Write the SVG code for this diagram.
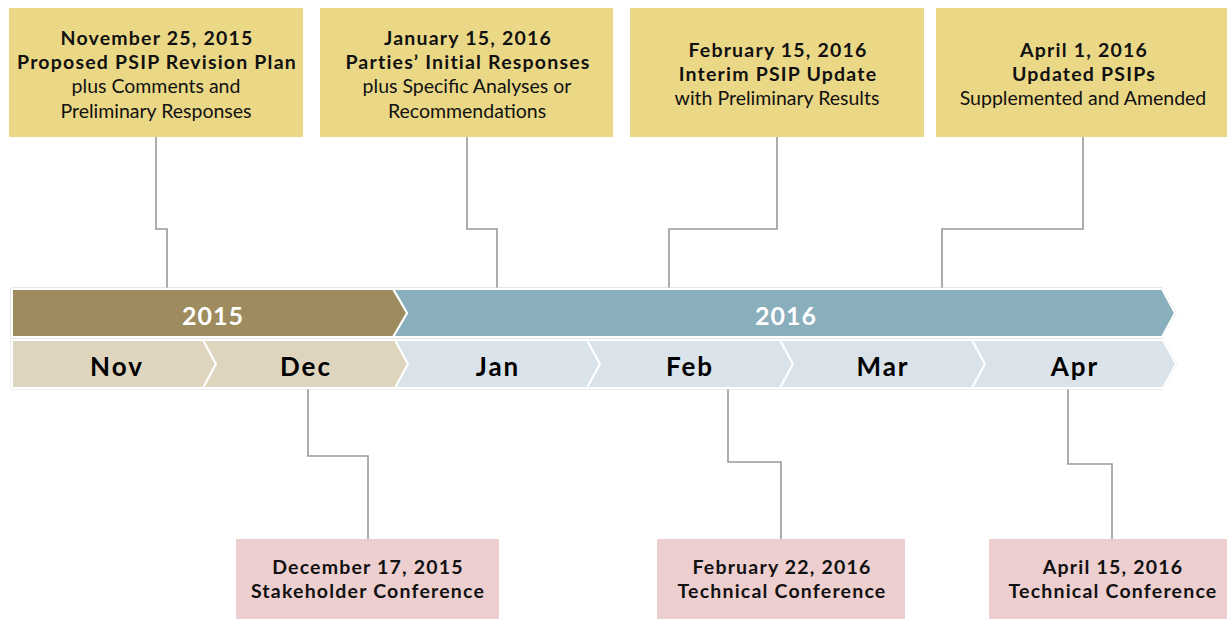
<svg xmlns="http://www.w3.org/2000/svg" width="1227" height="619" viewBox="0 0 1227 619">
<style>
.top{fill:#EBD886}
.bot{fill:#EDCFD0}
.t{font-family:Lato,"Liberation Sans",sans-serif;font-size:19.5px;fill:#111;text-anchor:middle}
.b{font-weight:bold;letter-spacing:1.2px}
.yr{font-family:Lato,"Liberation Sans",sans-serif;font-size:25px;font-weight:bold;fill:#fff;text-anchor:middle;letter-spacing:1px}
.mo{font-family:Lato,"Liberation Sans",sans-serif;font-size:26px;font-weight:bold;fill:#000;text-anchor:middle;letter-spacing:2px}
.m15{fill:#DFD5BE;stroke:#fff;stroke-width:2}
.m16{fill:#DAE2EA;stroke:#fff;stroke-width:2}
.conn{fill:none;stroke:#999;stroke-width:1.6}
</style>
<rect width="1227" height="619" fill="#fff"/>
<g id="connectors">
<polyline class="conn" points="156,137 156,229 167,229 167,288"/>
<polyline class="conn" points="467,137 467,229 497,229 497,288"/>
<polyline class="conn" points="777,137 777,229 669,229 669,288"/>
<polyline class="conn" points="1083,137 1083,229 942,229 942,288"/>
<polyline class="conn" points="308,389 308,456 368,456 368,539"/>
<polyline class="conn" points="728,389 728,462 781,462 781,539"/>
<polyline class="conn" points="1068,389 1068,464 1112,464 1112,539"/>
</g>
<g id="timeline">
<polygon points="11,288 1162,288 1176,313 1162,338 11,338" fill="none" stroke="#cfcfcf" stroke-width="1"/>
<polygon points="11,339 1163,339 1177,364 1163,389 11,389" fill="none" stroke="#dcdcdc" stroke-width="1"/>
<g id="y2016"><polygon points="393,289 1162,289 1175,313 1162,337 393,337 407,313" fill="#89AEBC" stroke="#fff" stroke-width="2"/><text class="yr" x="786" y="325">2016</text></g>
<g id="y2015"><polygon points="12,289 393,289 407,313 393,337 12,337" fill="#9E8B5E" stroke="#fff" stroke-width="2"/><text class="yr" x="213" y="325">2015</text></g>
<g id="nov"><polygon class="m15" points="12,340 203,340 216,364 203,388 12,388"/><text class="mo" x="117" y="376">Nov</text></g>
<g id="dec"><polygon class="m15" points="203,340 395,340 408,364 395,388 203,388 216,364"/><text class="mo" x="306" y="376">Dec</text></g>
<g id="jan"><polygon class="m16" points="395,340 587,340 600,364 587,388 395,388 408,364"/><text class="mo" x="498" y="376">Jan</text></g>
<g id="feb"><polygon class="m16" points="587,340 780,340 793,364 780,388 587,388 600,364"/><text class="mo" x="690" y="376">Feb</text></g>
<g id="mar"><polygon class="m16" points="780,340 972,340 985,364 972,388 780,388 793,364"/><text class="mo" x="883" y="376">Mar</text></g>
<g id="apr"><polygon class="m16" points="972,340 1163,340 1176,364 1163,388 972,388 985,364"/><text class="mo" x="1075" y="376">Apr</text></g>
</g>
<g id="n-nov25">
<rect class="top" x="9" y="8" width="294" height="129"/>
<text class="t b" x="157" y="45">November 25, 2015</text>
<text class="t b" x="157" y="69">Proposed PSIP Revision Plan</text>
<text class="t" x="156" y="93">plus Comments and</text>
<text class="t" x="156" y="118">Preliminary Responses</text>
</g>
<g id="n-jan15">
<rect class="top" x="320" y="8" width="293" height="129"/>
<text class="t b" x="468" y="45">January 15, 2016</text>
<text class="t b" x="468" y="69">Parties’ Initial Responses</text>
<text class="t" x="467" y="93">plus Specific Analyses or</text>
<text class="t" x="467" y="118">Recommendations</text>
</g>
<g id="n-feb15">
<rect class="top" x="630" y="8" width="294" height="129"/>
<text class="t b" x="778" y="57">February 15, 2016</text>
<text class="t b" x="778" y="81">Interim PSIP Update</text>
<text class="t" x="777" y="105">with Preliminary Results</text>
</g>
<g id="n-apr1">
<rect class="top" x="936" y="8" width="291" height="129"/>
<text class="t b" x="1084" y="57">April 1, 2016</text>
<text class="t b" x="1084" y="81">Updated PSIPs</text>
<text class="t" x="1083" y="105">Supplemented and Amended</text>
</g>
<g id="n-dec17">
<rect class="bot" x="236" y="539" width="263" height="80"/>
<text class="t b" x="368" y="574">December 17, 2015</text>
<text class="t b" x="368" y="598">Stakeholder Conference</text>
</g>
<g id="n-feb22">
<rect class="bot" x="657" y="539" width="248" height="80"/>
<text class="t b" x="782" y="574">February 22, 2016</text>
<text class="t b" x="782" y="598">Technical Conference</text>
</g>
<g id="n-apr15">
<rect class="bot" x="989" y="539" width="238" height="80"/>
<text class="t b" x="1113" y="574">April 15, 2016</text>
<text class="t b" x="1113" y="598">Technical Conference</text>
</g>
</svg>
